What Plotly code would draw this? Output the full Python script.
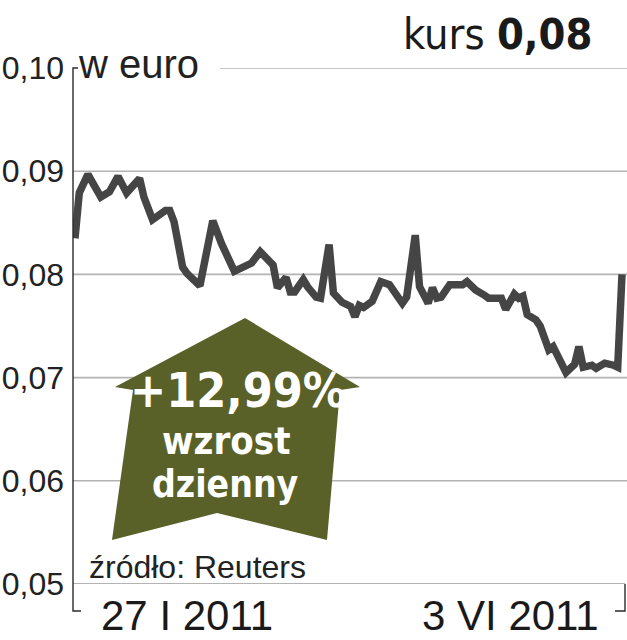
import plotly.graph_objects as go

dates = [
    "2011-01-27", "2011-01-28", "2011-01-30", "2011-02-02", "2011-02-04", "2011-02-06",
    "2011-02-08", "2011-02-11", "2011-02-12", "2011-02-14", "2011-02-17", "2011-02-18",
    "2011-02-19", "2011-02-21", "2011-02-22", "2011-02-25", "2011-02-28", "2011-03-02",
    "2011-03-05", "2011-03-07", "2011-03-09", "2011-03-11", "2011-03-13", "2011-03-14",
    "2011-03-15", "2011-03-17", "2011-03-18", "2011-03-19", "2011-03-21", "2011-03-22",
    "2011-03-24", "2011-03-25", "2011-03-27", "2011-03-28", "2011-03-30", "2011-04-01",
    "2011-04-02", "2011-04-03", "2011-04-04", "2011-04-06", "2011-04-08", "2011-04-10",
    "2011-04-13", "2011-04-14", "2011-04-16", "2011-04-17", "2011-04-19", "2011-04-20",
    "2011-04-21", "2011-04-22", "2011-04-24", "2011-04-26", "2011-04-27", "2011-04-28",
    "2011-04-30", "2011-05-02", "2011-05-03", "2011-05-04", "2011-05-06", "2011-05-07",
    "2011-05-09", "2011-05-10", "2011-05-11", "2011-05-12", "2011-05-14", "2011-05-15",
    "2011-05-17", "2011-05-18", "2011-05-20", "2011-05-21", "2011-05-23", "2011-05-24",
    "2011-05-25", "2011-05-27", "2011-05-28", "2011-05-30", "2011-06-01", "2011-06-02",
    "2011-06-03",
]
kurs = [
    0.0835, 0.0879, 0.0897, 0.0875, 0.0880, 0.0895,
    0.0879, 0.0893, 0.0875, 0.0853, 0.0862, 0.0862,
    0.0851, 0.0807, 0.0801, 0.0789, 0.0852, 0.0830,
    0.0803, 0.0808, 0.0811, 0.0822, 0.0812, 0.0809,
    0.0787, 0.0797, 0.0783, 0.0783, 0.0795, 0.0788,
    0.0778, 0.0777, 0.0829, 0.0782, 0.0773, 0.0769,
    0.0759, 0.0770, 0.0768, 0.0774, 0.0793, 0.0790,
    0.0772, 0.0778, 0.0838, 0.0788, 0.0772, 0.0787,
    0.0777, 0.0778, 0.0790, 0.0789, 0.0790, 0.0793,
    0.0785, 0.0780, 0.0777, 0.0777, 0.0777, 0.0766,
    0.0781, 0.0777, 0.0779, 0.0761, 0.0756, 0.0750,
    0.0727, 0.0730, 0.0714, 0.0705, 0.0713, 0.0730,
    0.0710, 0.0712, 0.0709, 0.0714, 0.0712, 0.0710,
    0.0800,
]
tick_vals = [0.05, 0.06, 0.07, 0.08, 0.09, 0.10]
tick_text = ["0,05", "0,06", "0,07", "0,08", "0,09", "0,10"]
x_labels = ["27 I 2011", "3 VI 2011"]
unit_label = "w euro"
last_rate = "0,08"
change_pct = "+12,99%"
change_words = ["wzrost", "dzienny"]
source = "źródło: Reuters"

W, H = 627, 640
L, R, T, B = 73, 0, 68, 56
PW, PH = W - L - R, H - T - B


def px(x):
    return (x - L) / PW


def py(y):
    return (H - B - y) / PH


NARROW = "Liberation Sans Narrow, Arial Narrow, DejaVu Sans Condensed, sans-serif"
REG = "Liberation Sans, Arial, sans-serif"
GRID = "#b3b3b3"
DARK = "#2b2b2b"
OLIVE = "#5a6128"

fig = go.Figure()
fig.add_trace(go.Scatter(
    x=dates, y=kurs, mode="lines", cliponaxis=False,
    line=dict(color="#454545", width=7.5, shape="linear"),
    hoverinfo="skip", showlegend=False,
))

shapes = []
for v in tick_vals[1:]:
    x0 = px(220) if v == max(tick_vals) else 0
    shapes.append(dict(type="line", xref="paper", yref="y", x0=x0, x1=1,
                       y0=v, y1=v, line=dict(color=GRID, width=1.6), layer="below"))
shapes.append(dict(type="line", xref="paper", yref="y", x0=0, x1=px(625),
                   y0=min(tick_vals), y1=min(tick_vals),
                   line=dict(color="#9a9a9a", width=1.6), layer="below"))
shapes.append(dict(type="path", xref="paper", yref="paper",
                   path=f"M {px(78)},{py(68)} L {px(73)},{py(68)} L {px(73)},{py(611)} L {px(81)},{py(611)}",
                   line=dict(color=DARK, width=1.4)))
shapes.append(dict(type="path", xref="paper", yref="paper",
                   path=f"M {px(625)},{py(584)} L {px(625)},{py(611)} L {px(615)},{py(611)}",
                   line=dict(color=DARK, width=1.4)))
pts = [(245, 318), (360, 387), (340, 390), (327, 540), (217, 513),
       (112, 540), (133, 390), (115, 387)]
path = "M " + " L ".join(f"{px(a)},{py(b)}" for a, b in pts) + " Z"
shapes.append(dict(type="path", xref="paper", yref="paper", path=path,
                   fillcolor=OLIVE, line=dict(width=0), layer="above"))

ann = []


def add(text, x, y, size, family, color=DARK, xanchor="left", yanchor="middle"):
    ann.append(dict(text=text, xref="paper", yref="paper", x=px(x), y=py(y),
                    xanchor=xanchor, yanchor=yanchor, showarrow=False,
                    font=dict(size=size, family=family, color=color)))


add(f"kurs <b>{last_rate}</b>", 594, 34, 43, NARROW, color="#1a1a1a", xanchor="right")
add(unit_label, 76, 64, 40, REG, color="#222")
add(f"<b>{change_pct}</b>", 238, 390, 48, NARROW, color="white", xanchor="center")
add(f"<b>{change_words[0]}</b>", 226, 441, 38, NARROW, color="white", xanchor="center")
add(f"<b>{change_words[1]}</b>", 225, 484, 37, NARROW, color="white", xanchor="center")
add(source, 87, 567, 32, REG, color="#222")
add(x_labels[0], 99, 615, 42, REG, color="#1a1a1a")
add(x_labels[1], 601, 615, 42, REG, color="#1a1a1a", xanchor="right")

fig.update_layout(
    template="none",
    width=W, height=H,
    margin=dict(l=L, r=R, t=T, b=B, pad=0),
    paper_bgcolor="white", plot_bgcolor="white",
    showlegend=False,
    shapes=shapes, annotations=ann,
    xaxis=dict(type="date", range=["2011-01-26 13:00", "2011-06-04 03:50"],
               showgrid=False, zeroline=False, showline=False, automargin=False,
               showticklabels=False, ticks=""),
    yaxis=dict(range=[0.05, 0.10], tickvals=tick_vals, ticktext=tick_text,
               showgrid=False, zeroline=False, showline=False, ticks="",
               automargin=False, ticklabelstandoff=8,
               tickfont=dict(size=32, family=REG, color="#222")),
)

fig.write_html(
    "out.html",
    config={"displayModeBar": False},
    post_script="document.body.style.margin='0';document.body.style.overflow='hidden';",
)
